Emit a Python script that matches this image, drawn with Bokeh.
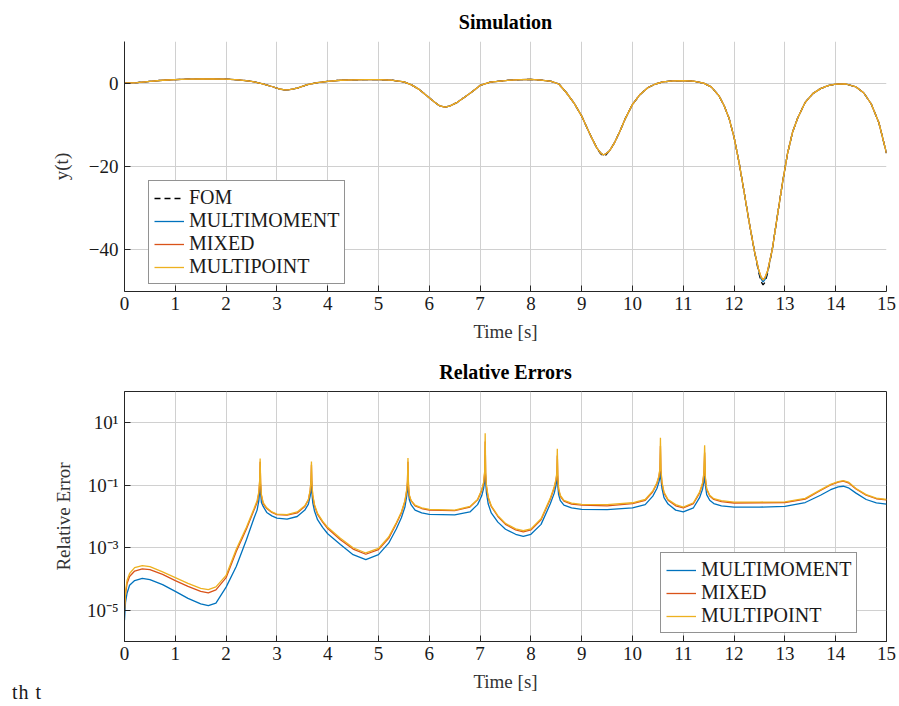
from bokeh.plotting import figure
from bokeh.layouts import column
from bokeh.models import Range1d, FixedTicker, Legend, LegendItem, Div
from bokeh.embed import file_html
from bokeh.resources import INLINE

FONT = "Liberation Serif"

# ---------------- data: simulation output y(t) ----------------
t_sim = [0.0, 0.25, 0.5, 0.75, 1.0, 1.25, 1.5, 1.75, 2.0, 2.25,
         2.5, 2.7, 2.9, 3.05, 3.15, 3.25, 3.4, 3.6, 3.8, 4.0,
         4.25, 4.5, 4.75, 5.0, 5.25, 5.5, 5.65, 5.8, 5.95, 6.1,
         6.2, 6.3, 6.4, 6.55, 6.7, 6.85, 7.0, 7.2, 7.4, 7.6,
         7.8, 8.0, 8.2, 8.4, 8.55, 8.7, 8.85, 9.0, 9.1, 9.2,
         9.3, 9.37, 9.42, 9.47, 9.55, 9.65, 9.75, 9.85, 10.0, 10.15,
         10.3, 10.45, 10.6, 10.8, 11.0, 11.2, 11.4, 11.55, 11.7, 11.8,
         11.9, 12.0, 12.1, 12.2, 12.3, 12.4, 12.48, 12.53, 12.57, 12.61,
         12.66, 12.75, 12.85, 12.95, 13.05, 13.15, 13.25, 13.4, 13.55, 13.7,
         13.85, 14.0, 14.2, 14.4, 14.55, 14.7, 14.85, 15.0]

y_fom = [0.0, 0.15, 0.45, 0.7, 0.85, 0.95, 1.0, 1.0, 0.95, 0.8,
         0.45, -0.1, -0.8, -1.4, -1.6, -1.55, -1.2, -0.35, 0.15, 0.45,
         0.7, 0.8, 0.85, 0.85, 0.75, 0.3, -0.4, -1.5, -3.0, -4.5,
         -5.4, -5.75, -5.5, -4.6, -3.3, -2.0, -0.55, 0.25, 0.5, 0.75,
         0.85, 0.9, 0.75, 0.45, -0.2, -2.3, -4.8, -7.9, -10.6, -13.2,
         -15.6, -16.9, -17.5, -17.3, -16.2, -14.2, -11.6, -8.7, -5.1, -2.7,
         -1.1, -0.2, 0.3, 0.55, 0.6, 0.5, 0.0, -0.9, -3.0, -5.3,
         -8.4, -13.0, -19.2, -26.3, -33.6, -40.3, -45.2, -47.6, -48.4, -47.8,
         -45.6, -40.0, -32.0, -24.1, -17.0, -11.8, -8.4, -4.6, -2.5, -1.3,
         -0.6, -0.25, -0.2, -0.9, -2.3, -5.0, -9.5, -16.8]

y_multimoment = [0.0, 0.15, 0.45, 0.7, 0.85, 0.95, 1.0, 1.0, 0.95, 0.8,
                 0.45, -0.1, -0.8, -1.4, -1.6, -1.55, -1.2, -0.35, 0.15, 0.45,
                 0.7, 0.8, 0.85, 0.85, 0.75, 0.3, -0.4, -1.5, -3.0, -4.5,
                 -5.4, -5.75, -5.5, -4.6, -3.3, -2.0, -0.55, 0.25, 0.5, 0.75,
                 0.85, 0.9, 0.75, 0.45, -0.2, -2.3, -4.8, -7.9, -10.6, -13.2,
                 -15.6, -16.7, -17.2, -17.0, -16.2, -14.2, -11.6, -8.7, -5.1, -2.7,
                 -1.1, -0.2, 0.3, 0.55, 0.6, 0.5, 0.0, -0.9, -3.0, -5.3,
                 -8.4, -13.0, -19.2, -26.3, -33.6, -40.3, -44.8, -46.9, -47.7, -47.1,
                 -45.2, -40.0, -32.0, -24.1, -17.0, -11.8, -8.4, -4.6, -2.5, -1.3,
                 -0.6, -0.25, -0.2, -0.9, -2.3, -5.0, -9.5, -16.8]

y_mixed = [0.0, 0.15, 0.45, 0.7, 0.85, 0.95, 1.0, 1.0, 0.95, 0.8,
           0.45, -0.1, -0.8, -1.4, -1.6, -1.55, -1.2, -0.35, 0.15, 0.45,
           0.7, 0.8, 0.85, 0.85, 0.75, 0.3, -0.4, -1.5, -3.0, -4.5,
           -5.4, -5.75, -5.5, -4.6, -3.3, -2.0, -0.55, 0.25, 0.5, 0.75,
           0.85, 0.9, 0.75, 0.45, -0.2, -2.3, -4.8, -7.9, -10.6, -13.2,
           -15.6, -16.7, -17.2, -17.0, -16.2, -14.2, -11.6, -8.7, -5.1, -2.7,
           -1.1, -0.2, 0.3, 0.55, 0.6, 0.5, 0.0, -0.9, -3.0, -5.3,
           -8.4, -13.0, -19.2, -26.3, -33.6, -40.3, -44.6, -46.5, -47.2, -46.6,
           -45.0, -40.0, -32.0, -24.1, -17.0, -11.8, -8.4, -4.6, -2.5, -1.3,
           -0.6, -0.25, -0.2, -0.9, -2.3, -5.0, -9.5, -16.8]

y_multipoint = [0.0, 0.15, 0.45, 0.7, 0.85, 0.95, 1.0, 1.0, 0.95, 0.8,
                0.45, -0.1, -0.8, -1.4, -1.6, -1.55, -1.2, -0.35, 0.15, 0.45,
                0.7, 0.8, 0.85, 0.85, 0.75, 0.3, -0.4, -1.5, -3.0, -4.5,
                -5.4, -5.75, -5.5, -4.6, -3.3, -2.0, -0.55, 0.25, 0.5, 0.75,
                0.85, 0.9, 0.75, 0.45, -0.2, -2.3, -4.8, -7.9, -10.6, -13.2,
                -15.6, -16.7, -17.2, -17.0, -16.2, -14.2, -11.6, -8.7, -5.1, -2.7,
                -1.1, -0.2, 0.3, 0.55, 0.6, 0.5, 0.0, -0.9, -3.0, -5.3,
                -8.4, -13.0, -19.2, -26.3, -33.6, -40.3, -44.6, -46.5, -47.2, -46.6,
                -45.0, -40.0, -32.0, -24.1, -17.0, -11.8, -8.4, -4.6, -2.5, -1.3,
                -0.6, -0.25, -0.2, -0.9, -2.3, -5.0, -9.5, -16.8]

# ---------------- data: relative errors ----------------
t_err = [0.0, 0.02, 0.05, 0.1, 0.2, 0.35, 0.5, 0.75, 1.0, 1.25,
         1.5, 1.65, 1.8, 2.0, 2.2, 2.4, 2.55, 2.61, 2.645, 2.66,
         2.67, 2.68, 2.695, 2.73, 2.8, 2.9, 3.0, 3.2, 3.4, 3.55,
         3.62, 3.655, 3.67, 3.68, 3.69, 3.705, 3.74, 3.8, 3.9, 4.0,
         4.25, 4.5, 4.75, 5.0, 5.2, 5.35, 5.45, 5.52, 5.555, 5.57,
         5.58, 5.59, 5.605, 5.64, 5.72, 5.85, 6.0, 6.5, 6.8, 6.95,
         7.03, 7.07, 7.09, 7.1, 7.11, 7.125, 7.16, 7.22, 7.35, 7.5,
         7.7, 7.85, 8.0, 8.2, 8.38, 8.46, 8.495, 8.51, 8.52, 8.53,
         8.545, 8.58, 8.65, 8.8, 9.0, 9.5, 10.0, 10.25, 10.4, 10.48,
         10.52, 10.54, 10.55, 10.56, 10.58, 10.62, 10.7, 10.85, 11.0, 11.2,
         11.32, 11.38, 11.405, 11.42, 11.435, 11.46, 11.52, 11.6, 11.75, 12.0,
         12.5, 13.0, 13.4, 13.7, 13.9, 14.05, 14.15, 14.25, 14.4, 14.6,
         14.8, 15.0]

err_multimoment = [4.8e-6, 1.8e-5, 3.5e-5, 6.3e-5, 8.9e-5, 1.05e-4, 9.5e-5, 6.6e-5, 4.0e-5, 2.4e-5,
                   1.6e-5, 1.4e-5, 1.7e-5, 5.5e-5, 2.5e-4, 1.8e-3, 8.9e-3, 1.6e-2, 3.2e-2, 6.3e-2,
                   0.18, 5.6e-2, 2.8e-2, 2.1e-2, 1.35e-2, 1.05e-2, 8.9e-3, 8.3e-3, 1.0e-2, 1.6e-2,
                   2.5e-2, 4.5e-2, 7.1e-2, 0.14, 5.6e-2, 2.8e-2, 1.5e-2, 7.9e-3, 4.5e-3, 2.8e-3,
                   1.26e-3, 6.0e-4, 4.2e-4, 6.0e-4, 1.4e-3, 4.0e-3, 9.1e-3, 2.0e-2, 4.5e-2, 7.1e-2,
                   0.16, 6.3e-2, 3.5e-2, 2.4e-2, 1.6e-2, 1.3e-2, 1.17e-2, 1.12e-2, 1.4e-2, 2.4e-2,
                   4.5e-2, 7.9e-2, 0.14, 0.40, 0.126, 5.6e-2, 2.5e-2, 1.3e-2, 6.6e-3, 3.9e-3,
                   2.7e-3, 2.3e-3, 2.7e-3, 5.6e-3, 2.5e-2, 5.6e-2, 0.10, 0.14, 0.25, 0.10,
                   5.0e-2, 3.2e-2, 2.3e-2, 1.9e-2, 1.7e-2, 1.66e-2, 1.9e-2, 2.4e-2, 4.5e-2, 7.9e-2,
                   0.126, 0.18, 0.32, 0.16, 7.9e-2, 4.0e-2, 2.5e-2, 1.6e-2, 1.4e-2, 1.9e-2,
                   4.0e-2, 7.6e-2, 0.126, 0.20, 0.10, 5.0e-2, 3.3e-2, 2.6e-2, 2.2e-2, 2.0e-2,
                   2.0e-2, 2.1e-2, 2.8e-2, 4.8e-2, 7.2e-2, 8.9e-2, 9.3e-2, 8.3e-2, 5.6e-2, 3.5e-2,
                   2.75e-2, 2.5e-2]

err_mixed = [1.0e-5, 3.2e-5, 7.1e-5, 1.2e-4, 1.8e-4, 2.1e-4, 2.0e-4, 1.4e-4, 8.9e-5, 5.8e-5,
             4.0e-5, 3.6e-5, 4.5e-5, 1.1e-4, 7.6e-4, 4.0e-3, 1.6e-2, 2.8e-2, 5.6e-2, 0.126,
             0.56, 0.112, 4.7e-2, 2.6e-2, 1.8e-2, 1.35e-2, 1.15e-2, 1.1e-2, 1.3e-2, 2.1e-2,
             3.4e-2, 6.6e-2, 0.126, 0.45, 0.10, 4.7e-2, 2.2e-2, 1.17e-2, 6.6e-3, 4.1e-3,
             1.8e-3, 9.1e-4, 6.2e-4, 8.7e-4, 2.0e-3, 5.9e-3, 1.3e-2, 3.0e-2, 6.6e-2, 0.126,
             0.56, 0.10, 4.7e-2, 3.2e-2, 2.2e-2, 1.8e-2, 1.6e-2, 1.55e-2, 2.0e-2, 3.4e-2,
             6.6e-2, 0.117, 0.25, 2.5, 0.22, 9.3e-2, 3.9e-2, 2.1e-2, 1.0e-2, 5.6e-3,
             3.7e-3, 3.2e-3, 3.7e-3, 7.9e-3, 3.5e-2, 8.3e-2, 0.148, 0.22, 0.89, 0.18,
             7.4e-2, 4.4e-2, 3.1e-2, 2.5e-2, 2.3e-2, 2.2e-2, 2.6e-2, 3.3e-2, 6.2e-2, 0.112,
             0.186, 0.32, 1.8, 0.28, 0.117, 5.6e-2, 3.3e-2, 2.2e-2, 1.9e-2, 2.6e-2,
             5.6e-2, 0.112, 0.22, 1.12, 0.16, 7.4e-2, 4.5e-2, 3.5e-2, 3.0e-2, 2.7e-2,
             2.75e-2, 2.8e-2, 3.6e-2, 6.8e-2, 0.102, 0.126, 0.135, 0.12, 7.6e-2, 4.8e-2,
             3.7e-2, 3.4e-2]

err_multipoint = [1.1e-5, 4.0e-5, 8.9e-5, 1.5e-4, 2.3e-4, 2.7e-4, 2.5e-4, 1.7e-4, 1.1e-4, 7.2e-5,
                  5.0e-5, 4.6e-5, 5.6e-5, 1.3e-4, 8.9e-4, 4.5e-3, 1.8e-2, 3.2e-2, 6.3e-2, 0.14,
                  0.72, 0.126, 5.0e-2, 2.8e-2, 1.9e-2, 1.4e-2, 1.2e-2, 1.15e-2, 1.4e-2, 2.2e-2,
                  3.5e-2, 7.1e-2, 0.14, 0.58, 0.112, 5.0e-2, 2.4e-2, 1.26e-2, 7.1e-3, 4.5e-3,
                  2.0e-3, 1.0e-3, 6.8e-4, 9.5e-4, 2.2e-3, 6.3e-3, 1.4e-2, 3.2e-2, 7.1e-2, 0.14,
                  0.74, 0.112, 5.0e-2, 3.3e-2, 2.3e-2, 1.9e-2, 1.7e-2, 1.6e-2, 2.1e-2, 3.5e-2,
                  7.1e-2, 0.126, 0.28, 4.6, 0.25, 0.10, 4.2e-2, 2.2e-2, 1.07e-2, 6.0e-3,
                  4.0e-3, 3.5e-3, 4.0e-3, 8.5e-3, 3.8e-2, 8.9e-2, 0.16, 0.25, 1.48, 0.20,
                  7.9e-2, 4.7e-2, 3.3e-2, 2.7e-2, 2.45e-2, 2.4e-2, 2.75e-2, 3.5e-2, 6.6e-2, 0.12,
                  0.20, 0.35, 3.3, 0.32, 0.126, 6.0e-2, 3.5e-2, 2.4e-2, 2.0e-2, 2.75e-2,
                  6.0e-2, 0.12, 0.25, 1.9, 0.18, 7.9e-2, 4.8e-2, 3.7e-2, 3.2e-2, 2.9e-2,
                  2.9e-2, 2.95e-2, 3.8e-2, 7.1e-2, 0.107, 0.13, 0.14, 0.126, 7.9e-2, 5.0e-2,
                  3.9e-2, 3.5e-2]

# ---------------- ticks and labels ----------------
x_ticks = [0, 1, 2, 3, 4, 5, 6, 7, 8, 9, 10, 11, 12, 13, 14, 15]
y_ticks_sim = [-40, -20, 0]
y_tick_labels_sim = ["−40", "−20", "0"]
y_ticks_err = [1e-5, 1e-3, 1e-1, 1e1]
y_tick_labels_err = ["10⁻⁵", "10⁻³", "10⁻¹", "10¹"]
footnote_text = "th t"

C_FOM = "#000000"
C_MM = "#0072BD"
C_MX = "#D95319"
C_MP = "#EDB120"
AX = "#262626"
GRID = "#d0d0d0"
TXT = "#1a1a1a"
FS = "19px"
LW = 1.3


def style_axes(p):
    p.title.text_font = FONT
    p.title.text_font_style = "bold"
    p.title.text_font_size = "20px"
    p.title.align = "center"
    p.title.text_color = "#000000"
    p.title.standoff = 17
    for ax in p.axis:
        ax.axis_line_color = AX
        ax.axis_line_width = 1
        ax.major_tick_line_color = AX
        ax.major_tick_in = 6
        ax.major_tick_out = 0
        ax.minor_tick_line_color = None
        ax.major_label_text_font = FONT
        ax.major_label_text_font_size = FS
        ax.major_label_text_color = TXT
        ax.axis_label_text_font = FONT
        ax.axis_label_text_font_size = FS
        ax.axis_label_text_font_style = "normal"
        ax.axis_label_text_color = "#333333"
    p.xgrid.grid_line_color = GRID
    p.ygrid.grid_line_color = GRID
    p.xgrid.grid_line_width = 1
    p.ygrid.grid_line_width = 1
    p.xaxis.ticker = FixedTicker(ticks=x_ticks)
    p.xaxis.major_label_standoff = 5
    p.xaxis.axis_label_standoff = 8
    p.xaxis.axis_label = "Time [s]"


def style_legend(leg, loc):
    leg.location = loc
    leg.border_line_color = AX
    leg.border_line_width = 1
    leg.background_fill_color = "white"
    leg.background_fill_alpha = 1.0
    leg.label_text_font = FONT
    leg.label_text_font_size = "20px"
    leg.label_text_color = TXT
    leg.glyph_width = 30
    leg.glyph_height = 20
    leg.label_height = 20
    leg.label_standoff = 5
    leg.spacing = 0
    leg.padding = 5
    leg.margin = 0


# ---------------- top: Simulation ----------------
p1 = figure(width=899, height=350, output_backend="svg", toolbar_location=None,
            x_range=Range1d(0, 15), y_range=Range1d(-50, 10),
            title="Simulation",
            min_border_left=124, min_border_right=13, min_border_top=41, min_border_bottom=59)
p1.outline_line_color = None
p1.background_fill_color = "white"
p1.border_fill_color = "white"

r_fom = p1.line(t_sim, y_fom, line_color=C_FOM, line_width=LW, line_dash="6 4")
r_mm = p1.line(t_sim, y_multimoment, line_color=C_MM, line_width=LW)
r_mx = p1.line(t_sim, y_mixed, line_color=C_MX, line_width=LW)
r_mp = p1.line(t_sim, y_multipoint, line_color=C_MP, line_width=LW)

style_axes(p1)
p1.yaxis.ticker = FixedTicker(ticks=y_ticks_sim)
p1.yaxis.major_label_overrides = dict(zip(y_ticks_sim, y_tick_labels_sim))
p1.yaxis.axis_label = "y(t)"
p1.yaxis.major_label_standoff = 6
p1.yaxis.axis_label_standoff = 14

leg1 = Legend(items=[LegendItem(label="FOM", renderers=[r_fom]),
                     LegendItem(label="MULTIMOMENT", renderers=[r_mm]),
                     LegendItem(label="MIXED", renderers=[r_mx]),
                     LegendItem(label="MULTIPOINT", renderers=[r_mp])])
style_legend(leg1, (24, 7))
p1.add_layout(leg1)

# ---------------- bottom: Relative Errors ----------------
p2 = figure(width=899, height=356, output_backend="svg", toolbar_location=None,
            x_range=Range1d(0, 15), y_range=Range1d(1e-6, 1e2), y_axis_type="log",
            title="Relative Errors",
            min_border_left=124, min_border_right=13, min_border_top=40, min_border_bottom=65)
p2.outline_line_color = AX
p2.outline_line_width = 1
p2.background_fill_color = "white"
p2.border_fill_color = "white"

e_mm = p2.line(t_err, err_multimoment, line_color=C_MM, line_width=LW)
e_mx = p2.line(t_err, err_mixed, line_color=C_MX, line_width=LW)
e_mp = p2.line(t_err, err_multipoint, line_color=C_MP, line_width=LW)

style_axes(p2)
p2.yaxis.ticker = FixedTicker(ticks=y_ticks_err)
p2.yaxis.major_label_overrides = dict(zip(y_ticks_err, y_tick_labels_err))
p2.yaxis.axis_label = "Relative Error"
p2.yaxis.major_label_standoff = 6
p2.yaxis.axis_label_standoff = 10

leg2 = Legend(items=[LegendItem(label="MULTIMOMENT", renderers=[e_mm]),
                     LegendItem(label="MIXED", renderers=[e_mx]),
                     LegendItem(label="MULTIPOINT", renderers=[e_mp])])
style_legend(leg2, (536, 8))
p2.add_layout(leg2)

# stray text at the bottom-left of the page, overlapping the bottom border
note = Div(text=footnote_text, width=60, height=24, margin=(-26, 0, 0, 12),
           styles={"font-family": FONT, "font-size": "20px", "color": TXT,
                   "letter-spacing": "1px",
                   "line-height": "24px", "z-index": "10", "position": "relative"})

layout = column(p1, p2, note, spacing=0)
open("out.html", "w").write(file_html(layout, INLINE))
